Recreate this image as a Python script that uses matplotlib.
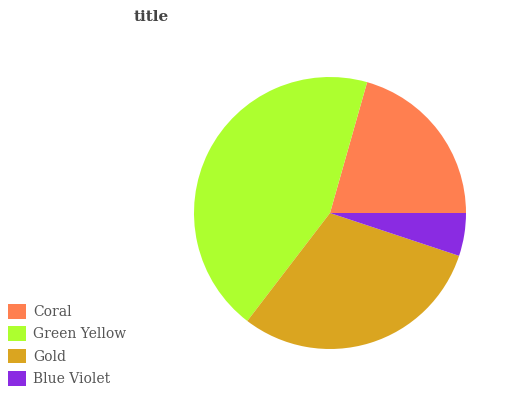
import matplotlib.pyplot as plt
from matplotlib.patches import Patch

# Data
labels = ['Coral', 'Green Yellow', 'Gold', 'Blue Violet']
values = [20.6, 44.0, 30.3, 5.1]
colors = ['#FF7F50', '#ADFF2F', '#DAA520', '#8A2BE2']

plt.rcParams['font.family'] = 'DejaVu Serif'

fig = plt.figure(figsize=(5.32, 4), dpi=100)

# Pie axes: centre (330, 213) px, radius 136 px
ax = fig.add_axes([194/532, 1 - 349/400, 272/532, 272/400])
ax.pie(values, colors=colors, startangle=0, counterclock=True,
       radius=1, wedgeprops=dict(linewidth=0))
ax.set_xlim(-1, 1)
ax.set_ylim(-1, 1)
ax.set_aspect('equal')
ax.axis('off')

fig.text(151/532, 1 - 17/400, 'title', ha='center', va='center',
         fontsize=11, fontweight='bold', color='#444444')

handles = [Patch(facecolor=c, edgecolor='none') for c in colors]
leg = fig.legend(handles, labels, loc='upper left',
                 bbox_to_anchor=(4/532, 1 - 300/400), frameon=False,
                 fontsize=10, handlelength=1.25, handleheight=1.25,
                 handletextpad=0.55, labelspacing=0.52,
                 borderaxespad=0, borderpad=0.3)
for t in leg.get_texts():
    t.set_color('#555555')

fig.savefig('out.png', dpi=100)
